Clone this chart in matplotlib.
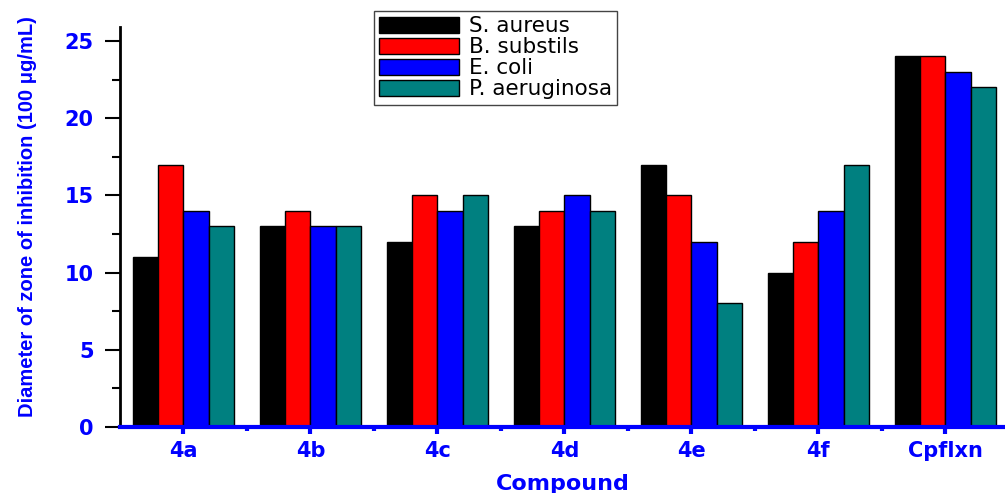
import matplotlib
matplotlib.use('Agg')
import matplotlib.pyplot as plt
import numpy as np
from matplotlib.ticker import MultipleLocator, FixedLocator

compounds = ['4a', '4b', '4c', '4d', '4e', '4f', 'Cpflxn']
strains = ['S. aureus', 'B. substils', 'E. coli', 'P. aeruginosa']
s_aureus = [11, 13, 12, 13, 17, 10, 24]
b_subtilis = [17, 14, 15, 14, 15, 12, 24]
e_coli = [14, 13, 14, 15, 12, 14, 23]
p_aeruginosa = [13, 13, 15, 14, 8, 17, 22]
colors = ['#000000', '#ff0000', '#0000ff', '#008080']

fig = plt.figure(figsize=(10.05, 4.93), dpi=100)
ax = fig.add_axes([0.1194, 0.134, 0.8806, 0.811])

x = np.arange(len(compounds))
width = 0.2
series = [s_aureus, b_subtilis, e_coli, p_aeruginosa]
for i, (vals, c, name) in enumerate(zip(series, colors, strains)):
    ax.bar(x + (i - 1.5) * width, vals, width, color=c, edgecolor='black',
           linewidth=1, label=name, zorder=2)

ax.set_xlim(-0.5, 6.47)
ax.set_ylim(0, 25.9)

# spines
for s in ['top', 'right']:
    ax.spines[s].set_visible(False)
ax.spines['left'].set_linewidth(2)
ax.spines['left'].set_color('black')
ax.spines['bottom'].set_linewidth(3)
ax.spines['bottom'].set_color('blue')
ax.spines['bottom'].set_zorder(3)

# y ticks
ax.yaxis.set_major_locator(MultipleLocator(5))
ax.yaxis.set_minor_locator(MultipleLocator(2.5))
ax.tick_params(axis='y', which='major', direction='out', length=11, width=1.5,
               color='black', pad=8, labelsize=15, labelcolor='blue')
ax.tick_params(axis='y', which='minor', direction='out', length=6, width=1.5,
               color='black')

# x ticks
ax.set_xticks(x)
ax.set_xticklabels(compounds)
ax.xaxis.set_minor_locator(FixedLocator(x[:-1] + 0.5))
ax.tick_params(axis='x', which='major', direction='out', length=5, width=3,
               color='blue', pad=5, labelsize=15, labelcolor='blue')
ax.tick_params(axis='x', which='minor', direction='out', length=3, width=3,
               color='blue')
for lab in ax.get_xticklabels() + ax.get_yticklabels():
    lab.set_fontweight('bold')
    lab.set_family('DejaVu Sans')

ax.set_xlabel('Compound', fontsize=16, fontweight='bold', color='blue',
              family='DejaVu Sans')
ax.xaxis.set_label_coords(0.5, -0.1425)
ax.xaxis.label.set_va('center')

ax.set_ylabel('Diameter of zone of inhibition (100 \u03bcg/mL)', fontsize=14.5,
              fontweight='bold', color='blue',
              family=['Liberation Sans', 'DejaVu Sans'])
ax.yaxis.set_label_coords(-0.105, 0.527)
ax.yaxis.label.set_va('center')

leg = ax.legend(loc='upper left', bbox_to_anchor=(0.372, 0.978),
                bbox_transform=fig.transFigure, fancybox=False,
                edgecolor='#444444', framealpha=1, handlelength=3.7,
                handleheight=0.75, labelspacing=0.05, borderpad=0.25,
                handletextpad=0.45, borderaxespad=0,
                prop={'family': 'DejaVu Sans', 'size': 15.5})
leg.get_frame().set_linewidth(1)

plt.savefig('out.png', dpi=100)
